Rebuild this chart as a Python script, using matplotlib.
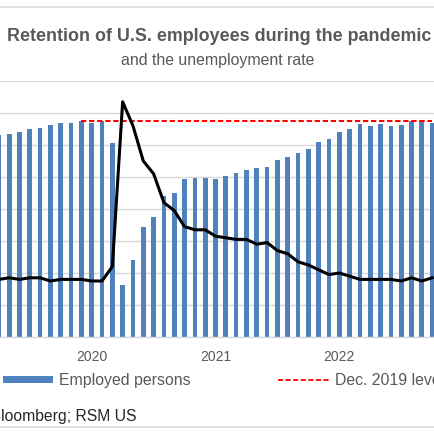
import matplotlib
matplotlib.use("Agg")
import matplotlib.pyplot as plt
from matplotlib.lines import Line2D
from matplotlib.patches import Rectangle
import numpy as np

plt.rcParams['font.family'] = ['Liberation Sans', 'DejaVu Sans']

# ---- data ----
months = ["2019-04", "2019-05", "2019-06", "2019-07", "2019-08", "2019-09", "2019-10",
          "2019-11", "2019-12",
          "2020-01", "2020-02", "2020-03", "2020-04", "2020-05", "2020-06", "2020-07",
          "2020-08", "2020-09", "2020-10", "2020-11", "2020-12",
          "2021-01", "2021-02", "2021-03", "2021-04", "2021-05", "2021-06", "2021-07",
          "2021-08", "2021-09", "2021-10", "2021-11", "2021-12",
          "2022-01", "2022-02", "2022-03", "2022-04", "2022-05", "2022-06", "2022-07",
          "2022-08", "2022-09", "2022-10"]
employed = [156.6, 156.7, 157.0, 157.5, 157.7, 158.2, 158.4, 158.5, 158.8,
            158.4, 158.7, 155.3, 133.1, 137.1, 142.2, 143.7, 147.1, 147.5, 149.7, 149.8, 149.8,
            149.7, 150.2, 150.7, 151.1, 151.4, 151.6, 152.7, 153.2, 153.8, 154.3, 155.4, 156.0,
            157.1, 157.5, 158.3, 157.9, 158.3, 158.0, 158.2, 158.7, 158.8, 158.5]
unemployment = [3.6, 3.7, 3.6, 3.7, 3.7, 3.5, 3.6, 3.6, 3.6,
                3.5, 3.5, 4.4, 14.7, 13.2, 11.0, 10.2, 8.4, 7.9, 6.9, 6.7, 6.7,
                6.3, 6.2, 6.1, 6.1, 5.8, 5.9, 5.4, 5.2, 4.7, 4.5, 4.2, 3.9,
                4.0, 3.8, 3.6, 3.6, 3.6, 3.6, 3.5, 3.7, 3.5, 3.7]
ref_month = "2019-12"
year_labels = ["2020", "2021", "2022"]

title = "Retention of U.S. employees during the pandemic"
subtitle = "and the unemployment rate"
source = "Source: Bloomberg; RSM US"

BLUE = "#4F81BD"
GRID = "#D9D9D9"
TXT = "#595959"

W = H = 435
fig = plt.figure(figsize=(W / 100, H / 100), dpi=100)

def fy(py):
    return 1 - py / H

def fx(px):
    return px / W

# axes: plot area extends across the whole width (cropped chart)
ax = fig.add_axes([0, fy(338), 1, (338 - 82) / H])
x = np.arange(len(months))
ax.bar(x, employed, width=0.455, color=BLUE, zorder=2)
ax.set_ylim(125, 165)
ax.set_yticks(np.arange(125, 166, 5))
ax.yaxis.grid(True, color=GRID, linewidth=1.0, zorder=0)
ax.set_axisbelow(True)
ax.set_xlim(0.112, 42.275)
jan_idx = [months.index(y + "-01") for y in year_labels]
ax.set_xticks(jan_idx)
ax.set_xticklabels(year_labels, fontsize=10, color=TXT)
ax.tick_params(axis='x', length=0, pad=9)
ax.tick_params(axis='y', length=0, labelleft=False)
for s in ["top", "left", "right"]:
    ax.spines[s].set_visible(False)
ax.spines["bottom"].set_color(GRID)
ax.spines["bottom"].set_linewidth(1.0)

# Dec. 2019 level line
ri = months.index(ref_month)
ref_level = employed[ri]
ax.plot(x[ri:], [ref_level] * len(x[ri:]), color="#FF0000", lw=1.45,
        dashes=(2.65, 1.35), zorder=3)

# unemployment rate on secondary axis
ax2 = ax.twinx()
ax2.plot(x, unemployment, color="black", lw=2.2, zorder=4, solid_joinstyle="round")
ax2.set_ylim(0, 16)
ax2.set_yticks([])
for s in ax2.spines.values():
    s.set_visible(False)

# titles
fig.text(fx(218.7), fy(40.8), title, ha="center", va="baseline",
         fontsize=12.9, fontweight="bold", color=TXT)
fig.text(fx(218), fy(65.3), subtitle, ha="center", va="baseline",
         fontsize=11.4, color=TXT)

# legend (manual, as in the cropped reference)
fig.patches.append(Rectangle((fx(2.7), fy(384.3)), fx(50), 7 / H, transform=fig.transFigure,
                             facecolor=BLUE, edgecolor="none"))
fig.text(fx(59.3), fy(385.3), "Employed persons", ha="left", va="baseline",
         fontsize=11.4, color=TXT)
fig.lines.append(Line2D([fx(278), fx(330)], [fy(380.7), fy(380.7)], transform=fig.transFigure,
                        color="#FF0000", lw=1.3, dashes=(2.8, 1.4)))
fig.text(fx(335), fy(385.3), "Dec. 2019 level", ha="left", va="baseline",
         fontsize=11.4, color=TXT)

# source
fig.text(fx(137), fy(420.8), source, ha="right", va="baseline",
         fontsize=11.3, color="#262626")

# border lines
fig.lines.append(Line2D([0, 1], [fy(7.5), fy(7.5)], transform=fig.transFigure,
                        color=GRID, lw=1.2))
fig.lines.append(Line2D([0, 1], [fy(428.3), fy(428.3)], transform=fig.transFigure,
                        color=GRID, lw=1.2))

fig.savefig("out.png", dpi=100)
